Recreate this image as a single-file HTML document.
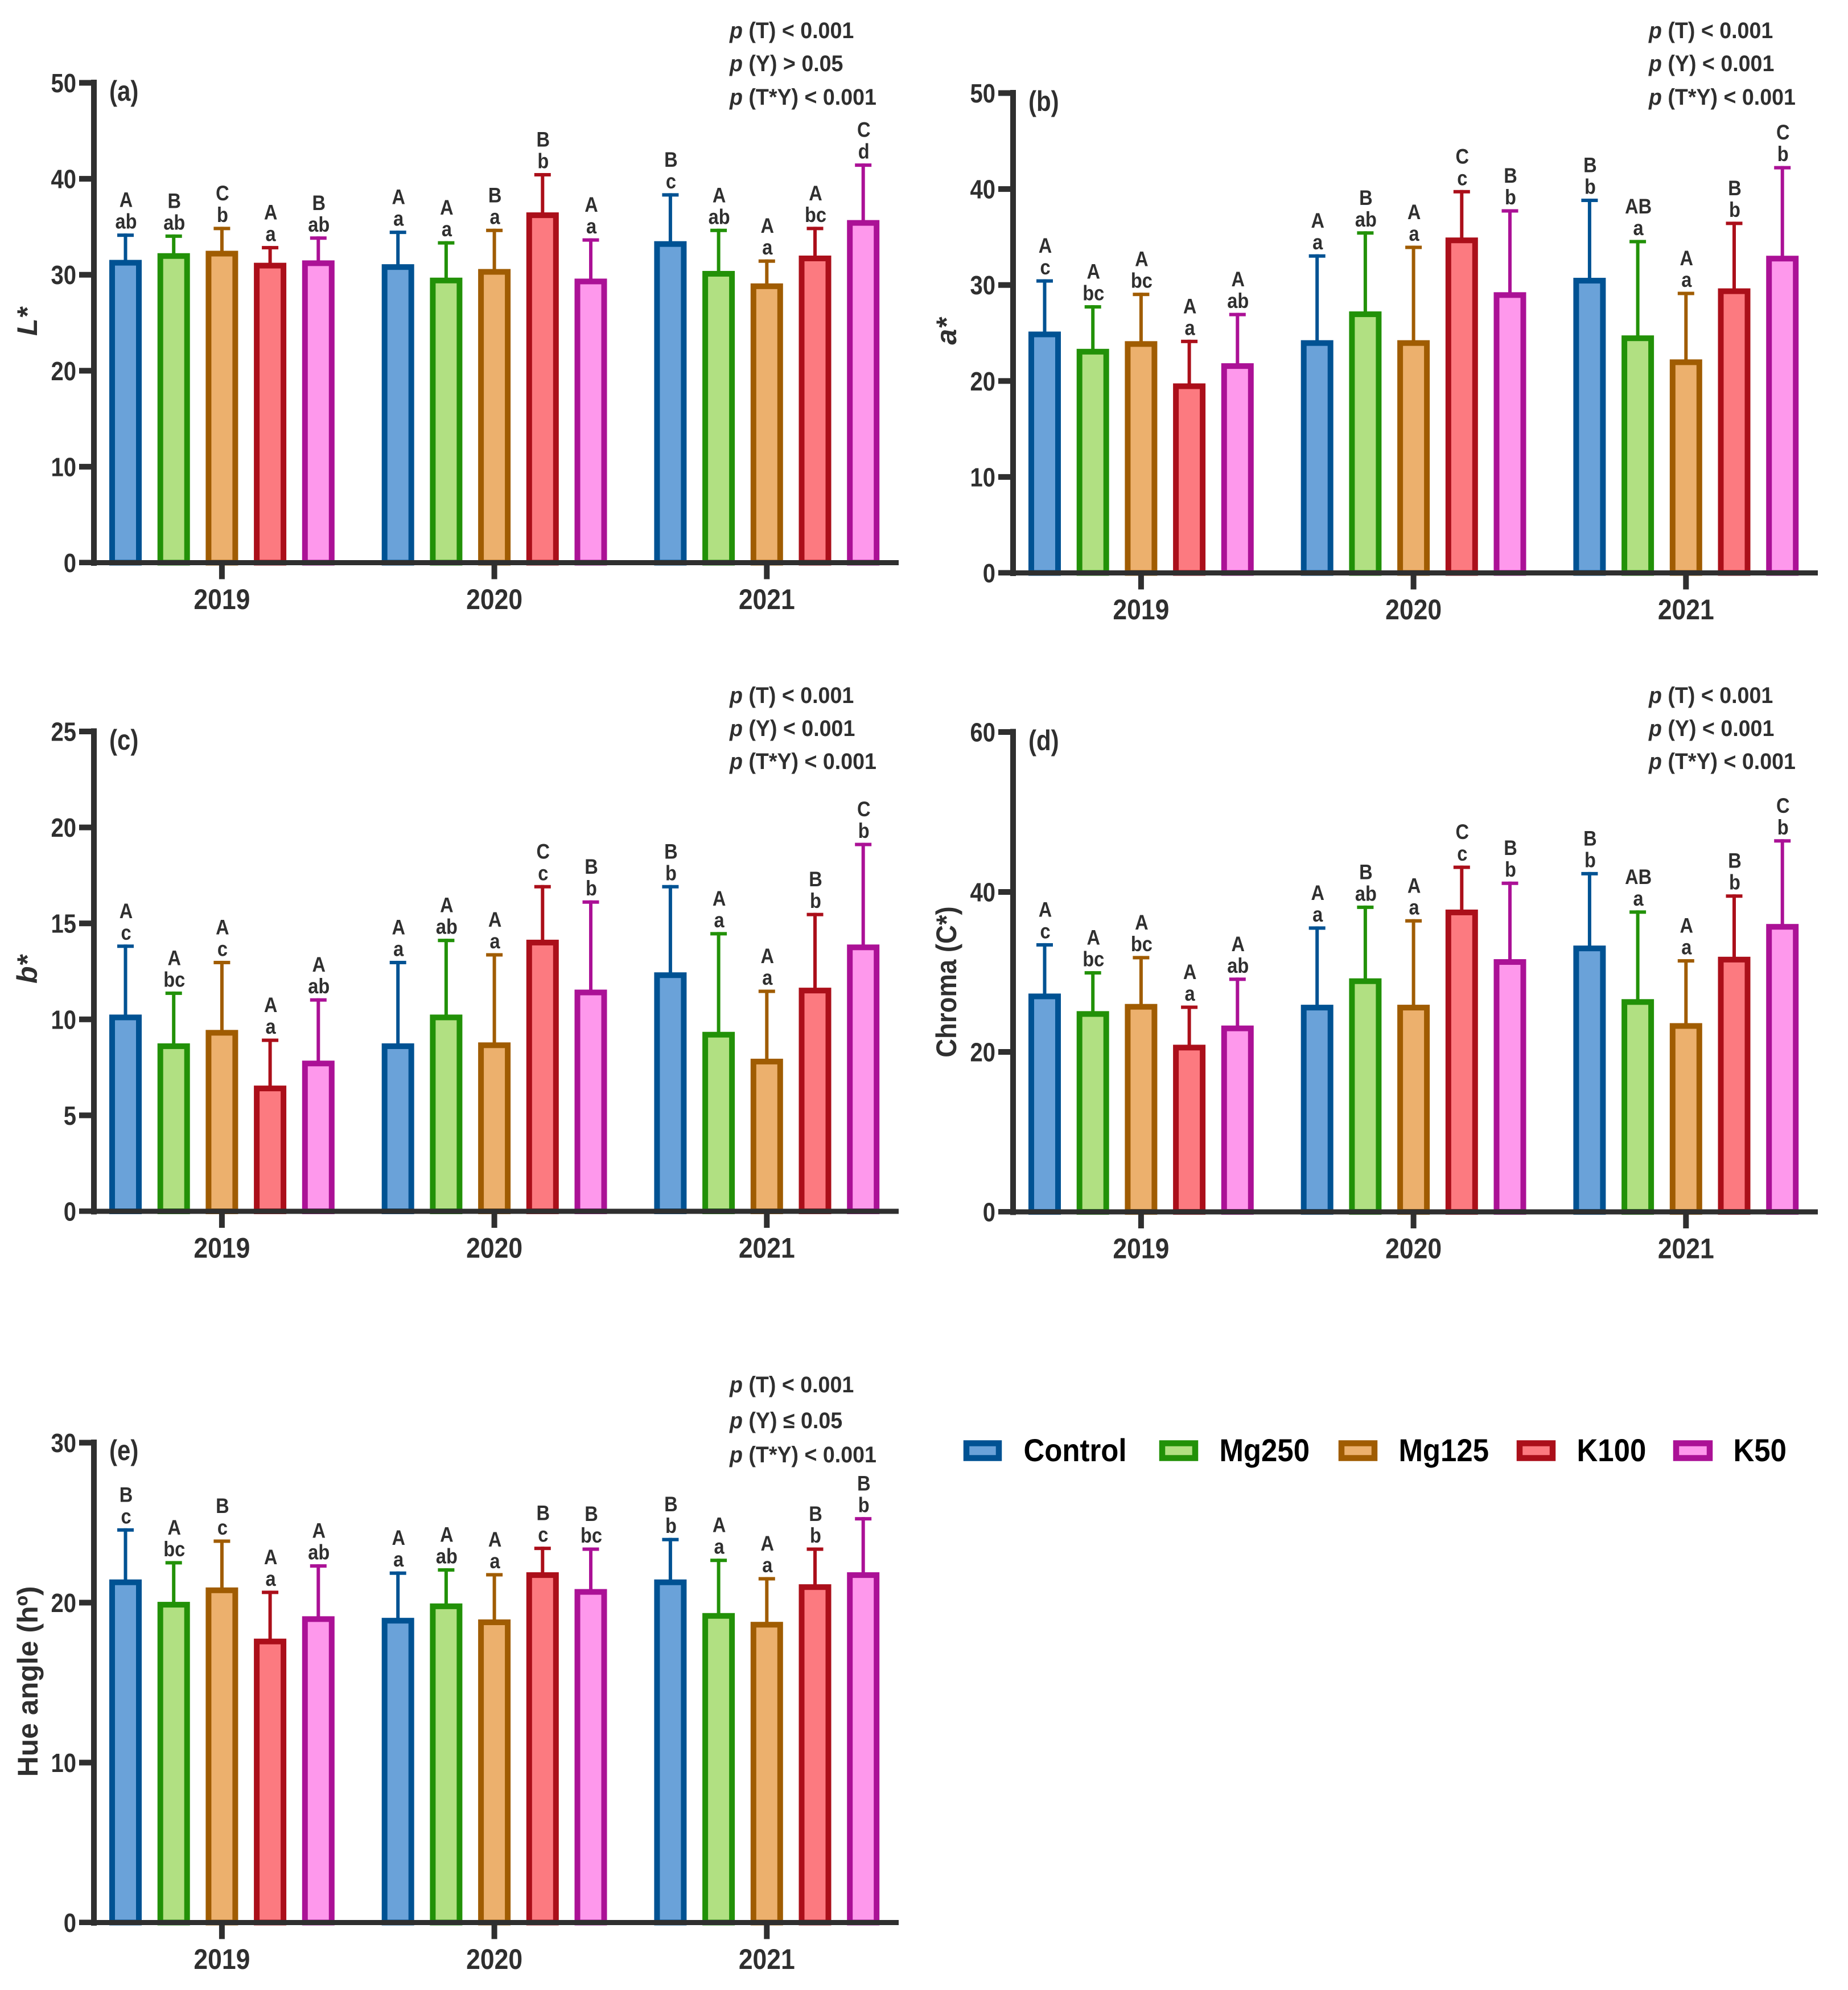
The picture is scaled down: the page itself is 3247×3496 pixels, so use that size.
<!DOCTYPE html>
<html lang="en">
<head>
<meta charset="utf-8">
<title>Colour parameters by treatment and year</title>
<style>
html,body{margin:0;padding:0;background:#fff}
svg{display:block}
text{font-family:"Liberation Sans",Arial,sans-serif;font-weight:700;fill:#2f2f2f}
.p{font-size:40px}
.pl{font-size:50px}
.yt{font-size:50px}
.lg{font-size:56px;fill:#000}
</style>
</head>
<body>
<svg id="fig" xmlns="http://www.w3.org/2000/svg" width="3247" height="3496" viewBox="0 0 3247 3496">
<rect x="0" y="0" width="3247" height="3496" fill="#ffffff"/>
<g id="panels"></g>

<g>
<text class="pl" transform="translate(192,177) scale(.84,1)">(a)</text>
<text class="pl" transform="translate(1807,195) scale(.84,1)">(b)</text>
<text class="pl" transform="translate(192,1317) scale(.84,1)">(c)</text>
<text class="pl" transform="translate(1807,1318) scale(.84,1)">(d)</text>
<text class="pl" transform="translate(192,2565) scale(.84,1)">(e)</text>
</g>

<g>
<text class="yt" text-anchor="middle" font-style="italic" transform="translate(65,565) rotate(-90)">L*</text>
<text class="yt" text-anchor="middle" font-style="italic" transform="translate(1680,582) rotate(-90)">a*</text>
<text class="yt" text-anchor="middle" font-style="italic" transform="translate(65,1703) rotate(-90)">b*</text>
<text class="yt" text-anchor="middle" transform="translate(1680,1725) rotate(-90) scale(.91,1)">Chroma (C*)</text>
<text class="yt" text-anchor="middle" transform="translate(66,2954) rotate(-90)">Hue angle (hº)</text>
</g>

<g>
<text class="p" transform="translate(1282,67) scale(.94,1)"><tspan font-style="italic">p</tspan> (T) &lt; 0.001</text>
<text class="p" transform="translate(1282,125) scale(.94,1)"><tspan font-style="italic">p</tspan> (Y) &gt; 0.05</text>
<text class="p" transform="translate(1282,184) scale(.94,1)"><tspan font-style="italic">p</tspan> (T*Y) &lt; 0.001</text>
</g>
<g>
<text class="p" transform="translate(2897,67) scale(.94,1)"><tspan font-style="italic">p</tspan> (T) &lt; 0.001</text>
<text class="p" transform="translate(2897,125) scale(.94,1)"><tspan font-style="italic">p</tspan> (Y) &lt; 0.001</text>
<text class="p" transform="translate(2897,184) scale(.94,1)"><tspan font-style="italic">p</tspan> (T*Y) &lt; 0.001</text>
</g>
<g>
<text class="p" transform="translate(1282,1235) scale(.94,1)"><tspan font-style="italic">p</tspan> (T) &lt; 0.001</text>
<text class="p" transform="translate(1282,1293) scale(.94,1)"><tspan font-style="italic">p</tspan> (Y) &lt; 0.001</text>
<text class="p" transform="translate(1282,1351) scale(.94,1)"><tspan font-style="italic">p</tspan> (T*Y) &lt; 0.001</text>
</g>
<g>
<text class="p" transform="translate(2897,1235) scale(.94,1)"><tspan font-style="italic">p</tspan> (T) &lt; 0.001</text>
<text class="p" transform="translate(2897,1293) scale(.94,1)"><tspan font-style="italic">p</tspan> (Y) &lt; 0.001</text>
<text class="p" transform="translate(2897,1351) scale(.94,1)"><tspan font-style="italic">p</tspan> (T*Y) &lt; 0.001</text>
</g>
<g>
<text class="p" transform="translate(1282,2446) scale(.94,1)"><tspan font-style="italic">p</tspan> (T) &lt; 0.001</text>
<text class="p" transform="translate(1282,2509) scale(.94,1)"><tspan font-style="italic">p</tspan> (Y) ≤ 0.05</text>
<text class="p" transform="translate(1282,2569) scale(.94,1)"><tspan font-style="italic">p</tspan> (T*Y) &lt; 0.001</text>
</g>

<g>
<g>
<rect x="1698" y="2535.5" width="57" height="26" fill="#6aa2d9" stroke="#005293" stroke-width="10.5"/>
<text class="lg" transform="translate(1798.5,2567) scale(.91,1)">Control</text>
</g>
<g>
<rect x="2042" y="2535.5" width="58" height="26" fill="#b1e082" stroke="#229108" stroke-width="10.5"/>
<text class="lg" transform="translate(2142.5,2567) scale(.91,1)">Mg250</text>
</g>
<g>
<rect x="2357" y="2535.5" width="58" height="26" fill="#ecb06d" stroke="#a05c02" stroke-width="10.5"/>
<text class="lg" transform="translate(2457.5,2567) scale(.91,1)">Mg125</text>
</g>
<g>
<rect x="2670" y="2535.5" width="58" height="26" fill="#fc7a80" stroke="#ab0f1a" stroke-width="10.5"/>
<text class="lg" transform="translate(2770.5,2567) scale(.91,1)">K100</text>
</g>
<g>
<rect x="2945" y="2535.5" width="59" height="26" fill="#fe98ec" stroke="#ab1196" stroke-width="10.5"/>
<text class="lg" transform="translate(3045.5,2567) scale(.91,1)">K50</text>
</g>
</g>
</svg>

<script>
// Categories
const years = ['2019', '2020', '2021'];
const treatments = ['control', 'mg250', 'mg125', 'k100', 'k50'];

// Tick labels
const ticksA = [0, 10, 20, 30, 40, 50];
const ticksB = [0, 10, 20, 30, 40, 50];
const ticksC = [0, 5, 10, 15, 20, 25];
const ticksD = [0, 20, 40, 60];
const ticksE = [0, 10, 20, 30];

// Panel (a) L*: means and upper error limits, five treatments per year
const meansA = [31.55, 32.25, 32.5, 31.25, 31.5, 31.1, 29.7, 30.6, 36.5, 29.6, 33.5, 30.4, 29.1, 32.0, 35.7];
const uppersA = [34.3, 34.2, 35.0, 33.0, 34.0, 34.6, 33.5, 34.8, 40.6, 33.8, 38.5, 34.8, 31.6, 35.0, 41.6];
const lettersUpperA = ['A', 'B', 'C', 'A', 'B', 'A', 'A', 'B', 'B', 'A', 'B', 'A', 'A', 'A', 'C'];
const lettersLowerA = ['ab', 'ab', 'b', 'a', 'ab', 'a', 'a', 'a', 'b', 'a', 'c', 'ab', 'a', 'bc', 'd'];

// Panel (b) a*
const meansB = [25.15, 23.35, 24.15, 19.75, 21.85, 24.25, 27.25, 24.25, 34.95, 29.25, 30.75, 24.75, 22.25, 29.65, 33.05];
const uppersB = [30.6, 27.9, 29.2, 24.3, 27.1, 33.2, 35.6, 34.1, 39.9, 37.9, 39.0, 34.7, 29.3, 36.6, 42.4];
const lettersUpperB = ['A', 'A', 'A', 'A', 'A', 'A', 'B', 'A', 'C', 'B', 'B', 'AB', 'A', 'B', 'C'];
const lettersLowerB = ['c', 'bc', 'bc', 'a', 'ab', 'a', 'ab', 'a', 'c', 'b', 'b', 'a', 'a', 'b', 'b'];

// Panel (c) b*
const meansC = [10.25, 8.75, 9.45, 6.55, 7.85, 8.75, 10.25, 8.8, 14.15, 11.55, 12.45, 9.35, 7.95, 11.65, 13.9];
const uppersC = [13.9, 11.45, 13.05, 9.0, 11.1, 13.05, 14.2, 13.45, 17.0, 16.2, 17.0, 14.55, 11.55, 15.55, 19.2];
const lettersUpperC = ['A', 'A', 'A', 'A', 'A', 'A', 'A', 'A', 'C', 'B', 'B', 'A', 'A', 'B', 'C'];
const lettersLowerC = ['c', 'bc', 'c', 'a', 'ab', 'a', 'ab', 'a', 'c', 'b', 'b', 'a', 'a', 'b', 'b'];

// Panel (d) Chroma
const meansD = [27.3, 25.1, 26.0, 20.9, 23.3, 25.9, 29.2, 25.9, 37.8, 31.6, 33.3, 26.6, 23.6, 31.9, 36.0];
const uppersD = [33.6, 30.1, 32.0, 25.8, 29.3, 35.7, 38.3, 36.6, 43.3, 41.3, 42.5, 37.7, 31.6, 39.7, 46.6];
const lettersUpperD = ['A', 'A', 'A', 'A', 'A', 'A', 'B', 'A', 'C', 'B', 'B', 'AB', 'A', 'B', 'C'];
const lettersLowerD = ['c', 'bc', 'bc', 'a', 'ab', 'a', 'ab', 'a', 'c', 'b', 'b', 'a', 'a', 'b', 'b'];

// Panel (e) Hue angle
const meansE = [21.45, 20.05, 20.95, 17.75, 19.15, 19.05, 19.95, 18.95, 21.9, 20.85, 21.45, 19.35, 18.8, 21.15, 21.9];
const uppersE = [24.65, 22.6, 23.95, 20.75, 22.4, 21.95, 22.15, 21.85, 23.5, 23.45, 24.05, 22.75, 21.6, 23.45, 25.35];
const lettersUpperE = ['B', 'A', 'B', 'A', 'A', 'A', 'A', 'A', 'B', 'B', 'B', 'A', 'A', 'B', 'B'];
const lettersLowerE = ['c', 'bc', 'c', 'a', 'ab', 'a', 'ab', 'a', 'c', 'bc', 'b', 'a', 'a', 'b', 'b'];

const NS = 'http://www.w3.org/2000/svg';
const strokeColors = ['#005293', '#229108', '#a05c02', '#ab0f1a', '#ab1196'];
const fillColors = ['#6aa2d9', '#b1e082', '#ecb06d', '#fc7a80', '#fe98ec'];
const AXIS = '#2f2f2f';
const PLOT_H = 843;
const BAR_W = 57;
const BAR_STROKE = 10;
const BAR_STEP = 84.7;
const GROUP_STEP = 478.7;
const BAR_OFFSET = 55.5;
const AXIS_LEN = 1414;

function make(tag, parent, attrs) {
  const node = document.createElementNS(NS, tag);
  for (const k in attrs) node.setAttribute(k, attrs[k]);
  parent.appendChild(node);
  return node;
}

function drawPanel(key, axisX, y0, maxY, ticks, means, uppers, lettersUpper, lettersLower) {
  const root = document.getElementById('panels');
  const g = make('g', root, {});
  
  

  const yScale = function (v) { return y0 - v / maxY * PLOT_H; };
  const xScale = function (groupIdx, barIdx) {
    return axisX + BAR_OFFSET + barIdx * BAR_STEP + groupIdx * GROUP_STEP;
  };

  means.forEach(function (mean, i) {
    const groupIdx = Math.floor(i / treatments.length);
    const barIdx = i % treatments.length;
    const cx = xScale(groupIdx, barIdx);
    const topY = yScale(mean);
    const capY = yScale(uppers[i]);

    const stem = make('rect', g, { x: cx - 3, y: capY, width: 6, height: topY - capY + 2, fill: strokeColors[barIdx] });
    
    

    const cap = make('rect', g, { x: cx - 14.5, y: capY, width: 29, height: 6, fill: strokeColors[barIdx] });
    
    

    const bar = make('rect', g, {
      x: cx - BAR_W / 2 + BAR_STROKE / 2,
      y: topY + BAR_STROKE / 2,
      width: BAR_W - BAR_STROKE,
      height: y0 - topY - BAR_STROKE / 2,
      fill: fillColors[barIdx],
      stroke: strokeColors[barIdx],
      'stroke-width': BAR_STROKE
    });
    
    

    const lower = make('text', g, { 'font-size': 37, 'text-anchor': 'middle', transform: 'translate(' + (cx + 1) + ',' + (capY - 8.5) + ') scale(.88,1)' });
    lower.textContent = lettersLower[i];
    
    

    const upper = make('text', g, { 'font-size': 37, 'text-anchor': 'middle', transform: 'translate(' + (cx + 1) + ',' + (capY - 46.5) + ') scale(.88,1)' });
    upper.textContent = lettersUpper[i];
    
    
  });

  const xAxis = make('rect', g, { x: axisX - 26, y: y0 - 4.5, width: AXIS_LEN + 26, height: 9, fill: AXIS });
  
  

  const yAxis = make('rect', g, { x: axisX - 5, y: yScale(maxY) - 5.5, width: 10, height: PLOT_H + 11, fill: AXIS });
  
  

  ticks.forEach(function (t) {
    const y = yScale(t);
    const tick = make('rect', g, { x: axisX - 26, y: y - 5, width: 26, height: t === 0 ? 9 : 10, fill: AXIS });
    
    

    const label = make('text', g, { 'font-size': 46, 'text-anchor': 'end', transform: 'translate(' + (axisX - 31) + ',' + (y + 16.5) + ') scale(.87,1)' });
    label.textContent = String(t);
    
    
  });

  years.forEach(function (year, groupIdx) {
    const cx = xScale(groupIdx, 2);
    const tick = make('rect', g, { x: cx - 5, y: y0 + 4, width: 10, height: 25, fill: AXIS });
    
    

    const label = make('text', g, { 'font-size': 50, 'text-anchor': 'middle', transform: 'translate(' + cx + ',' + (y0 + 81.5) + ') scale(.89,1)' });
    label.textContent = year;
    
    
  });
}

drawPanel('a', 165, 988.5, 50, ticksA, meansA, uppersA, lettersUpperA, lettersLowerA);
drawPanel('b', 1780, 1006.5, 50, ticksB, meansB, uppersB, lettersUpperB, lettersLowerB);
drawPanel('c', 165, 2128, 25, ticksC, meansC, uppersC, lettersUpperC, lettersLowerC);
drawPanel('d', 1780, 2129, 60, ticksD, meansD, uppersD, lettersUpperD, lettersLowerD);
drawPanel('e', 165, 3377.5, 30, ticksE, meansE, uppersE, lettersUpperE, lettersLowerE);
</script>
</body>
</html>
